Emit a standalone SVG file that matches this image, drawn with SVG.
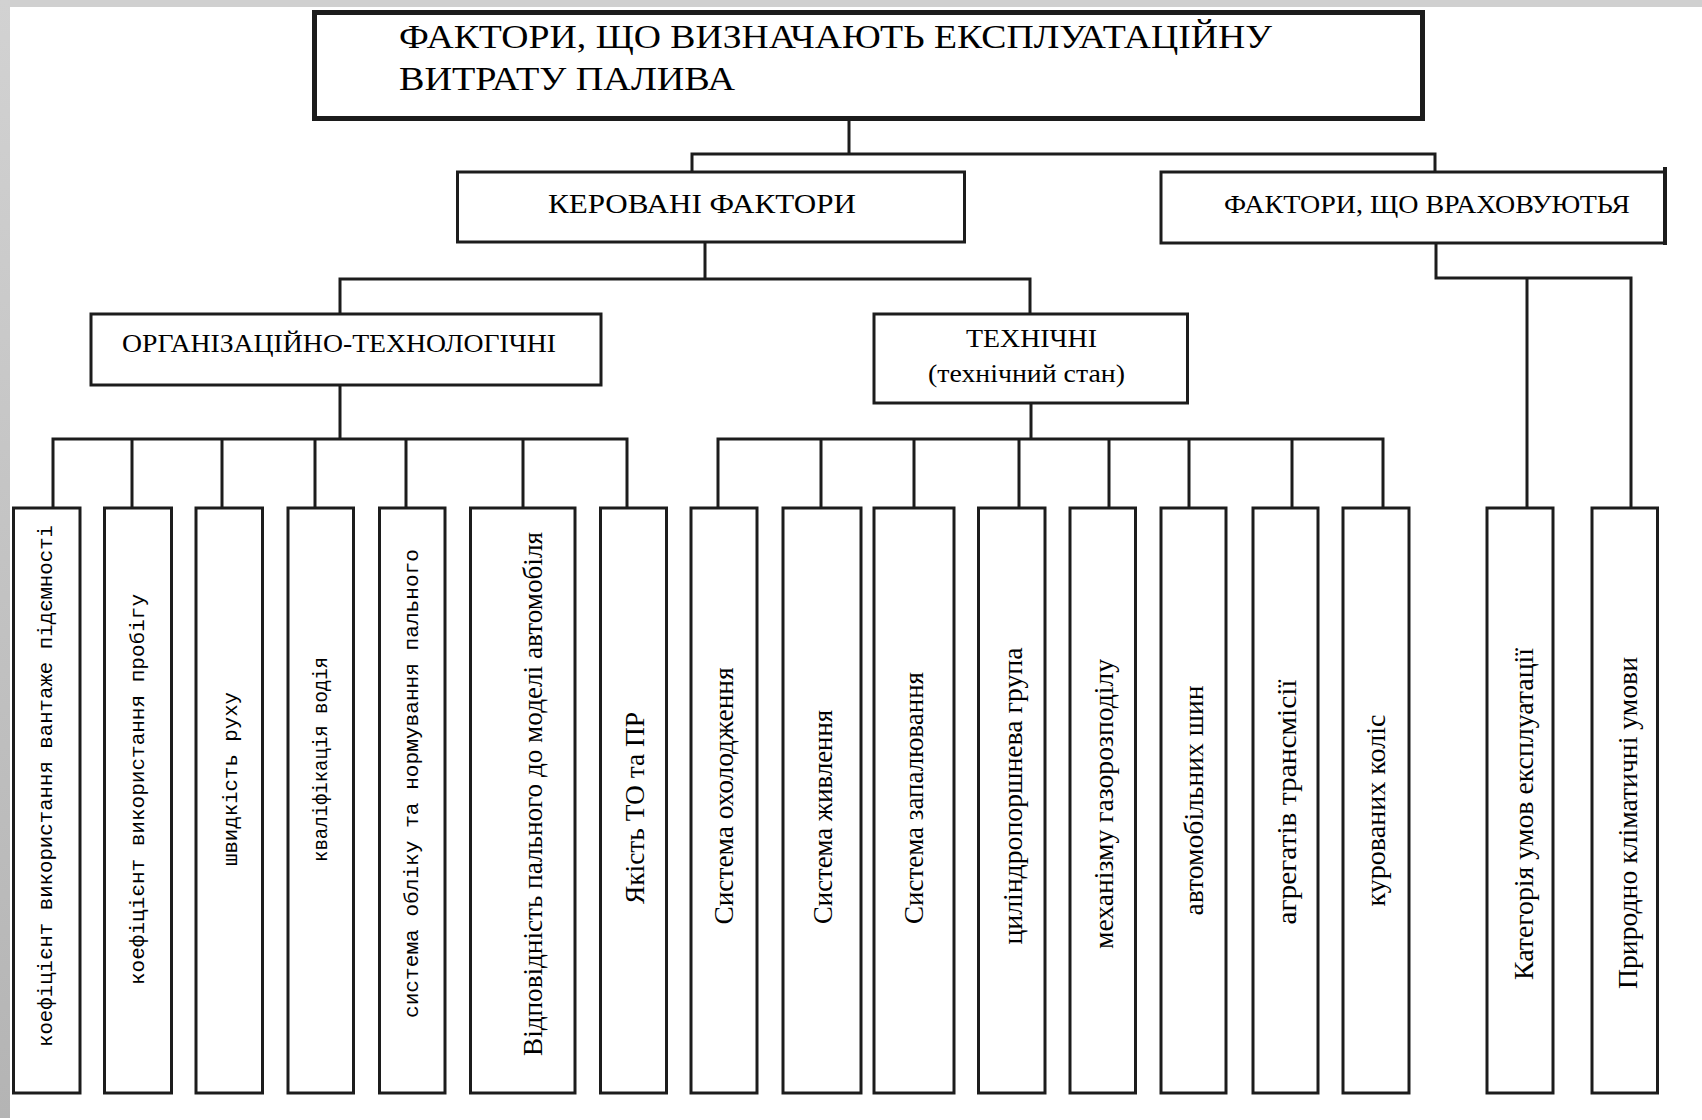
<svg xmlns="http://www.w3.org/2000/svg" width="1702" height="1120" viewBox="0 0 1702 1120">
<defs>
<linearGradient id="lg" x1="0" y1="0" x2="0" y2="1">
<stop offset="0" stop-color="#d2d2d2"/>
<stop offset="1" stop-color="#b4b4b4"/>
</linearGradient>
<style>
.box{fill:#fff;stroke:#1c1c1c;stroke-width:3}
.thick{stroke-width:5}
.conn{fill:none;stroke:#1c1c1c;stroke-width:3;stroke-linejoin:miter;stroke-linecap:square}
.s{font-family:"Liberation Serif","DejaVu Serif",serif;fill:#000}
.m{font-family:"Liberation Mono","DejaVu Sans Mono",monospace;fill:#000;font-size:21px}
.lv{font-size:28px}
.hd{font-size:27px}
</style>
</defs>
<rect x="0" y="0" width="1702" height="1120" fill="#fff"/>
<rect x="0" y="0" width="1702" height="7" fill="#d0d0d0"/>
<rect x="0" y="0" width="10" height="1118" fill="url(#lg)"/>

<g id="connectors">
<path class="conn" d="M849 121 V154 M692 172 V154 H1435 V172"/>
<path class="conn" d="M705 242 V279 M340 314 V279 H1030 V314"/>
<path class="conn" d="M1436 243 V278 H1631 V508 M1527 278 V508"/>
<path class="conn" d="M340 385 V439 M53 508 V439 H627 V508 M132 439 V508 M222 439 V508 M315 439 V508 M406 439 V508 M523 439 V508"/>
<path class="conn" d="M1031 403 V439 M718 508 V439 H1383 V508 M821 439 V508 M914 439 V508 M1019 439 V508 M1109 439 V508 M1189 439 V508 M1292 439 V508"/>
</g>

<g id="title">
<rect class="box thick" x="314.5" y="12.5" width="1108" height="106"/>
<text class="s" x="399" y="48" font-size="34" textLength="873" lengthAdjust="spacingAndGlyphs">ФАКТОРИ, ЩО ВИЗНАЧАЮТЬ ЕКСПЛУАТАЦІЙНУ</text>
<text class="s" x="399" y="90" font-size="34" textLength="336" lengthAdjust="spacingAndGlyphs">ВИТРАТУ ПАЛИВА</text>
</g>

<g id="kerovani">
<rect class="box" x="457.5" y="172" width="507" height="70"/>
<text class="s hd" x="548" y="213" textLength="308" lengthAdjust="spacingAndGlyphs">КЕРОВАНІ ФАКТОРИ</text>
</g>

<g id="vrakhovuiut">
<rect class="box" x="1161" y="172" width="504" height="71"/>
<line x1="1665" y1="167" x2="1665" y2="245" stroke="#1c1c1c" stroke-width="4"/>
<text class="s" x="1224" y="213" font-size="26" textLength="406" lengthAdjust="spacingAndGlyphs">ФАКТОРИ, ЩО ВРАХОВУЮТЬЯ</text>
</g>

<g id="org">
<rect class="box" x="91" y="314" width="510" height="71"/>
<text class="s" x="122" y="352" font-size="26" textLength="434" lengthAdjust="spacingAndGlyphs">ОРГАНІЗАЦІЙНО-ТЕХНОЛОГІЧНІ</text>
</g>

<g id="tekhn">
<rect class="box" x="874" y="314" width="313.5" height="89"/>
<text class="s" x="966" y="347" font-size="26" textLength="131" lengthAdjust="spacingAndGlyphs">ТЕХНІЧНІ</text>
<text class="s" x="928" y="382" font-size="26" textLength="197" lengthAdjust="spacingAndGlyphs">(технічний стан)</text>
</g>

<g id="leaf1"><rect class="box" x="13.5" y="508" width="66.5" height="585"/>
<text class="m" text-anchor="middle" transform="translate(51.5 786) rotate(-90)" textLength="522" lengthAdjust="spacingAndGlyphs">коефіцієнт використання вантаже підємності</text></g>
<g id="leaf2"><rect class="box" x="104.5" y="508" width="67" height="585"/>
<text class="m" text-anchor="middle" transform="translate(144 789.5) rotate(-90)" textLength="391" lengthAdjust="spacingAndGlyphs">коефіцієнт використання пробігу</text></g>
<g id="leaf3"><rect class="box" x="196" y="508" width="66.5" height="585"/>
<text class="m" text-anchor="middle" transform="translate(236.5 779) rotate(-90)" textLength="174" lengthAdjust="spacingAndGlyphs">швидкість руху</text></g>
<g id="leaf4"><rect class="box" x="288" y="508" width="65.5" height="585"/>
<text class="m" text-anchor="middle" transform="translate(327 759.5) rotate(-90)" textLength="205" lengthAdjust="spacingAndGlyphs">кваліфікація водія</text></g>
<g id="leaf5"><rect class="box" x="379.5" y="508" width="65.5" height="585"/>
<text class="m" text-anchor="middle" transform="translate(417.5 783.5) rotate(-90)" textLength="469" lengthAdjust="spacingAndGlyphs">система обліку та нормування пального</text></g>
<g id="leaf6"><rect class="box" x="470.5" y="508" width="104.5" height="585"/>
<text class="s" font-size="27" text-anchor="middle" transform="translate(542 794) rotate(-90)" textLength="524" lengthAdjust="spacingAndGlyphs">Відповідність пального до моделі автомобіля</text></g>
<g id="leaf7"><rect class="box" x="600.5" y="508" width="66" height="585"/>
<text class="s lv" text-anchor="middle" transform="translate(644 808) rotate(-90)" textLength="192" lengthAdjust="spacingAndGlyphs">Якість ТО та ПР</text></g>
<g id="leaf8"><rect class="box" x="691" y="508" width="66" height="585"/>
<text class="s lv" text-anchor="middle" transform="translate(733 796) rotate(-90)" textLength="257" lengthAdjust="spacingAndGlyphs">Система охолодження</text></g>
<g id="leaf9"><rect class="box" x="783" y="508" width="78" height="585"/>
<text class="s lv" text-anchor="middle" transform="translate(832 817) rotate(-90)" textLength="214" lengthAdjust="spacingAndGlyphs">Система живлення</text></g>
<g id="leaf10"><rect class="box" x="874" y="508" width="80" height="585"/>
<text class="s lv" text-anchor="middle" transform="translate(923 798) rotate(-90)" textLength="252" lengthAdjust="spacingAndGlyphs">Система запалювання</text></g>
<g id="leaf11"><rect class="box" x="978.5" y="508" width="66.5" height="585"/>
<text class="s lv" text-anchor="middle" transform="translate(1022 796) rotate(-90)" textLength="297" lengthAdjust="spacingAndGlyphs">циліндропоршнева група</text></g>
<g id="leaf12"><rect class="box" x="1070" y="508" width="65.5" height="585"/>
<text class="s lv" text-anchor="middle" transform="translate(1113 804) rotate(-90)" textLength="290" lengthAdjust="spacingAndGlyphs">механізму газорозподілу</text></g>
<g id="leaf13"><rect class="box" x="1161" y="508" width="65" height="585"/>
<text class="s lv" text-anchor="middle" transform="translate(1203 800.5) rotate(-90)" textLength="230" lengthAdjust="spacingAndGlyphs">автомобільних шин</text></g>
<g id="leaf14"><rect class="box" x="1253" y="508" width="65" height="585"/>
<text class="s lv" text-anchor="middle" transform="translate(1296 802) rotate(-90)" textLength="245" lengthAdjust="spacingAndGlyphs">агрегатів трансмісії</text></g>
<g id="leaf15"><rect class="box" x="1343" y="508" width="66" height="585"/>
<text class="s lv" text-anchor="middle" transform="translate(1385 810.5) rotate(-90)" textLength="192" lengthAdjust="spacingAndGlyphs">курованих коліс</text></g>
<g id="leaf16"><rect class="box" x="1487" y="508" width="66" height="585"/>
<text class="s lv" text-anchor="middle" transform="translate(1533 814) rotate(-90)" textLength="332" lengthAdjust="spacingAndGlyphs">Категорія умов експлуатації</text></g>
<g id="leaf17"><rect class="box" x="1592" y="508" width="65.5" height="585"/>
<text class="s lv" text-anchor="middle" transform="translate(1637 823) rotate(-90)" textLength="332" lengthAdjust="spacingAndGlyphs">Природно кліматичні умови</text></g>
</svg>
